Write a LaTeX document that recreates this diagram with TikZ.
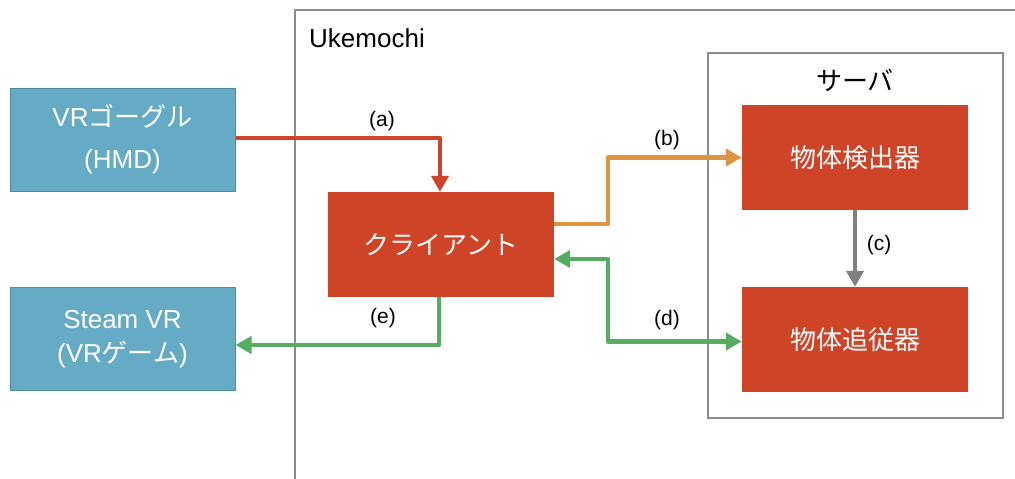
\documentclass[tikz,border=0pt]{standalone}
\usepackage{fontspec}
\setmainfont{Liberation Sans}
\newfontfamily\cjk{Noto Sans CJK JP}
\usetikzlibrary{arrows.meta}
\definecolor{boxblue}{HTML}{66ABC6}
\definecolor{boxblueline}{HTML}{4F8AA2}
\definecolor{boxred}{HTML}{CF4327}
\definecolor{arrred}{HTML}{D04328}
\definecolor{arrorange}{HTML}{DD9543}
\definecolor{arrgreen}{HTML}{55AE5F}
\definecolor{arrgray}{HTML}{808080}
\definecolor{framegray}{HTML}{8C8C8C}
\tikzset{
  bluebox/.style={draw=boxblueline, line width=1pt, fill=boxblue, text=white,
    minimum width=225pt, minimum height=103pt, align=center, inner sep=0pt},
  redbox/.style={fill=boxred, text=white, minimum width=226pt, minimum height=105pt,
    align=center, inner sep=0pt, font=\fontsize{26}{30}\selectfont\cjk},
  tipshape/.style={},
  conn/.style={line width=4.5pt, line join=round,
    -{Triangle[length=16pt,width=17pt]}},
  lbl/.style={font=\fontsize{21}{24}\selectfont, text=black, inner sep=0pt},
  frame/.style={draw=framegray, line width=2pt}
}
\begin{document}
\begin{tikzpicture}[x=1pt,y=-1pt]
\useasboundingbox (0,0) rectangle (1015,479);
\fill[white] (0,0) rectangle (1015,479);
% Ukemochi frame (open to the right and bottom)
\draw[frame] (1030,10) -- (295,10) -- (295,495);
\node[anchor=west, inner sep=0pt, font=\fontsize{26}{30}\selectfont] (uk) at (309,38) {Ukemochi};
% server box
\draw[frame] (708,53) rectangle (1003,418);
\node[inner sep=0pt, font=\fontsize{26}{30}\selectfont\cjk] (srv) at (855,80) {サーバ};
% nodes
\node[bluebox, font=\fontsize{26}{42}\selectfont] (vr) at (122.5,139.5) {VR{\cjk ゴーグル}\\(HMD)};
\node[bluebox, font=\fontsize{26}{34}\selectfont] (steam) at (122.5,339) {Steam VR\\(VR{\cjk ゲーム})};
\node[redbox] (client) at (441,244.5) {クライアント};
\node[redbox] (det) at (855,157.5) {物体検出器};
\node[redbox] (trk) at (855,339.5) {物体追従器};
\coordinate (bx) at (608,0);
\coordinate (dend) at ([yshift=-2pt]trk.west);
% connectors
\draw[conn, arrred] ([yshift=1.5pt]vr.east) -| ([xshift=-1pt]client.north);
\draw[conn, arrorange] ([yshift=20.5pt]client.east) -| (bx |- det.west) -- (det.west);
\draw[conn, arrgray] (det.south) -- (trk.north);
\draw[conn, arrgreen, {Triangle[length=16pt,width=17pt]}-{Triangle[length=16pt,width=17pt]}]
  ([yshift=-14.5pt]client.east) -| (bx |- dend) -- (dend);
\draw[conn, arrgreen] ([xshift=-2pt]client.south) |- ([yshift=-6pt]steam.east);
% labels
\node[lbl] (la) at (382,121) {(a)};
\node[lbl] (lb) at (667,140) {(b)};
\node[lbl] (lc) at (879,245) {(c)};
\node[lbl] (ld) at (667,320) {(d)};
\node[lbl] (le) at (383,318) {(e)};
\end{tikzpicture}
\end{document}
